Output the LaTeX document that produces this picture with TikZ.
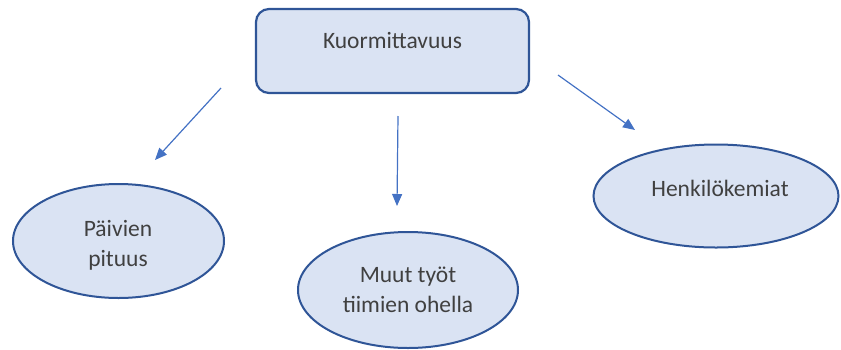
\documentclass[tikz,border=0pt]{standalone}
\usepackage{fontspec}
\setmainfont{Carlito}
\usetikzlibrary{shapes.geometric,arrows.meta}
\definecolor{boxfill}{HTML}{DAE3F3}
\definecolor{boxline}{HTML}{2F5597}
\definecolor{arrowblue}{HTML}{4472C4}
\definecolor{labelgray}{HTML}{404040}
\tikzset{
  mainbox/.style={draw=boxline, fill=boxfill, line width=2.2pt, rounded corners=13pt,
    rectangle, inner sep=0pt},
  topic/.style={draw=boxline, fill=boxfill, line width=2pt, ellipse, inner sep=0pt},
  txt/.style={text=labelgray, font=\fontsize{23.5}{28}\selectfont, anchor=base, inner sep=0pt},
  link/.style={draw=arrowblue, line width=1.2pt, -{Triangle[length=12pt,width=10pt]}},
}
\begin{document}
\begin{tikzpicture}[x=1pt, y=-1pt]
  \useasboundingbox (0,0) rectangle (841,349);

  % central box
  \node[mainbox, minimum width=273pt, minimum height=84pt] (top) at (392.5,51) {};
  \node[txt] (topText) at (392.5,48.5) {Kuormittavuus};

  % the three topics
  \node[topic, minimum width=211pt, minimum height=114pt] (left) at (118.5,241) {};
  \node[txt] (leftA) at (118,236) {Päivien};
  \node[txt] (leftB) at (118,266) {pituus};

  \node[topic, minimum width=220pt, minimum height=116pt] (mid) at (408,290) {};
  \node[txt] (midA) at (408,282) {Muut työt};
  \node[txt] (midB) at (408,312) {tiimien ohella};

  \node[topic, minimum width=245pt, minimum height=103pt] (right) at (716,196) {};
  \node[txt] (rightText) at (720,196) {Henkilökemiat};

  % free-standing arrows between box and topics
  \coordinate (la) at (221,88);
  \coordinate (lb) at (155,160);
  \coordinate (ma) at (398,116);
  \coordinate (mb) at (397,206);
  \coordinate (ra) at (558,75);
  \coordinate (rb) at (635,130);
  \draw[link] (la) -- (lb);
  \draw[link] (ma) -- (mb);
  \draw[link] (ra) -- (rb);
\end{tikzpicture}
\end{document}
